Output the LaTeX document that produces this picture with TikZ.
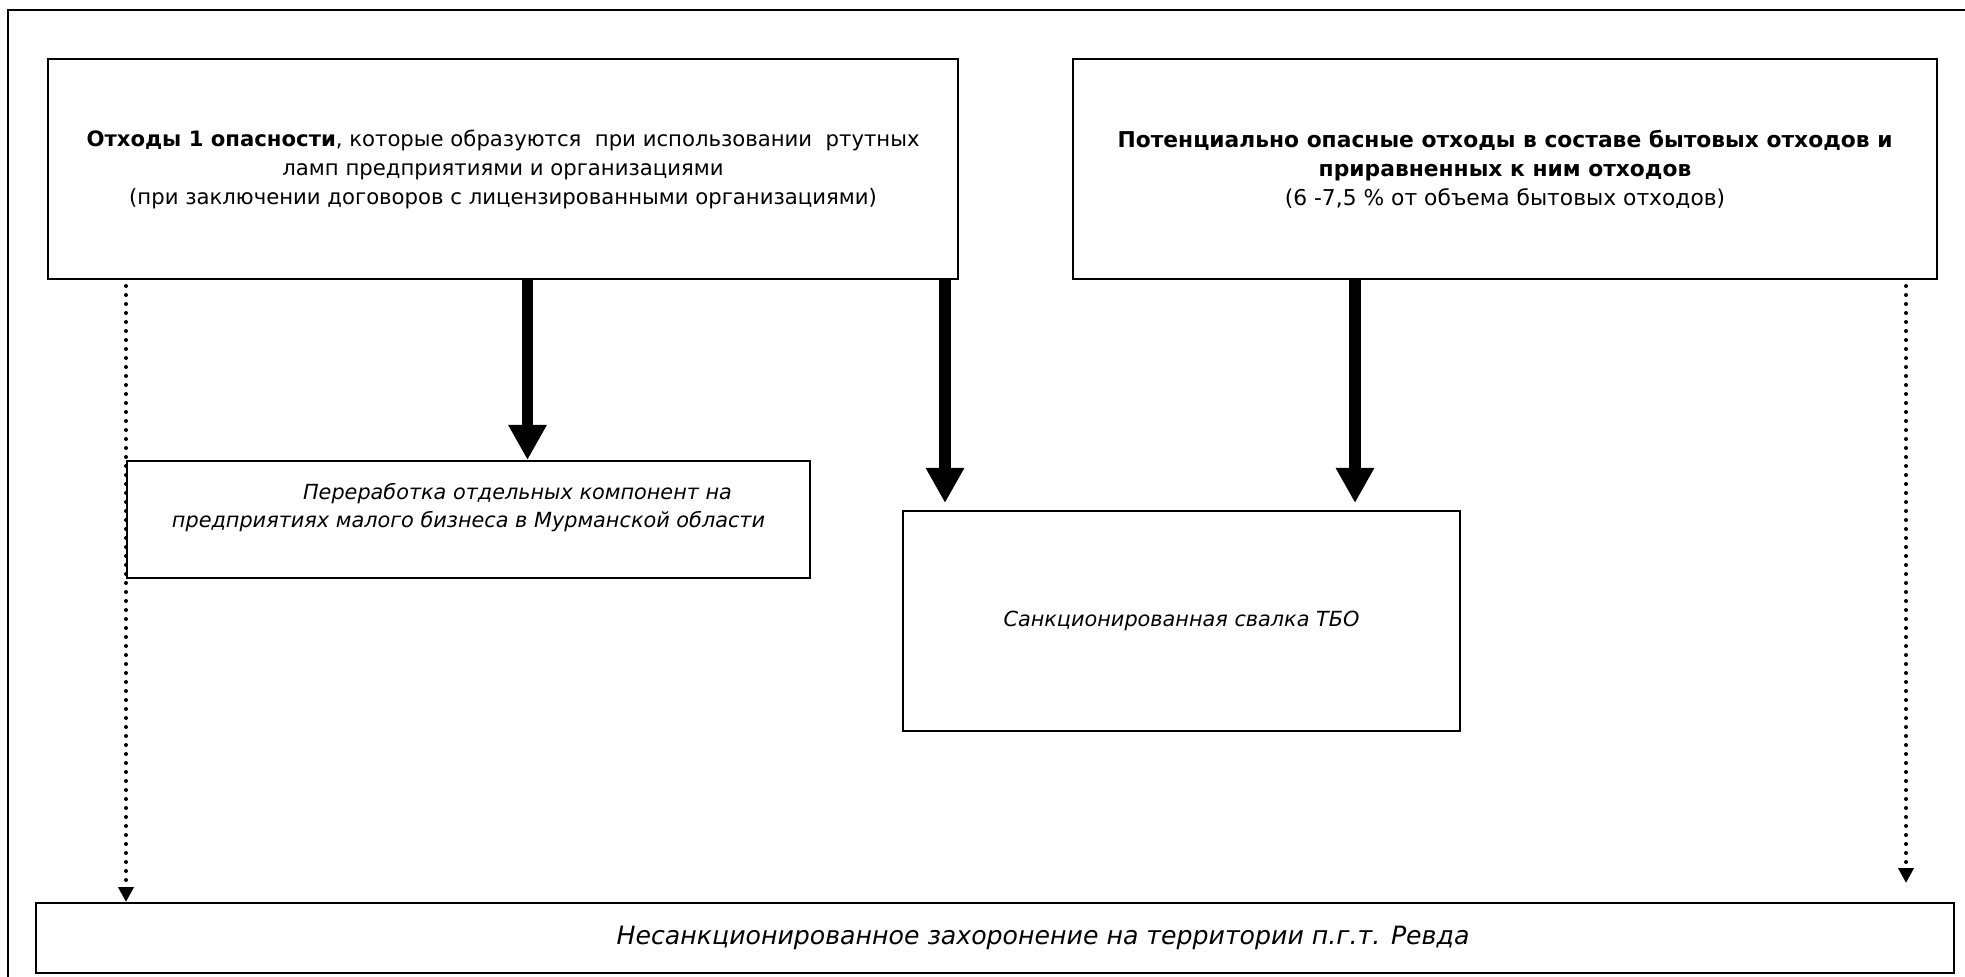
\documentclass[tikz,border=0pt]{standalone}
\usepackage{fontspec}
\setmainfont{DejaVu Sans}
\usetikzlibrary{arrows.meta, calc}

\begin{document}
\begin{tikzpicture}[
      x=0.5pt, y=-0.5pt,
      font=\fontsize{10.6}{14.5}\selectfont,
      box/.style={rectangle, draw=black, line width=1pt, inner sep=0pt,
                  align=center},
      slant/.style={font=\fontsize{10.4}{14}\selectfont\itshape},
      fat/.style={-{Triangle[length=17.5pt, width=18pt]}, line width=5.75pt},
      dots/.style={-{Triangle[length=7.5pt, width=7.5pt]}, line width=2pt,
                   line cap=round, dash pattern=on 0pt off 4.5pt}
  ]
  \useasboundingbox (0,0) rectangle (1965,977);
  \draw[line width=1.25pt] (8,977) |- (1965,10);

  \node[box, minimum width=455pt, minimum height=110pt] (otx) at (503,169)
       {\textbf{Отходы 1 опасности}, которые образуются\ \ при использовании\ \ ртутных\\
        ламп предприятиями и организациями\\
        (при заключении договоров с лицензированными организациями)};
  \node[box, minimum width=432pt, minimum height=110pt,
        font=\fontsize{10.9}{14.5}\selectfont] (pot) at (1505,169)
       {\textbf{Потенциально опасные отходы в составе бытовых отходов и}\\
        \textbf{приравненных к ним отходов}\\
        (6 -7,5 \% от объема бытовых отходов)};
  \node[box, slant, minimum width=341.5pt, minimum height=58.5pt] (pere) at (468.5,519.5)
       {\hspace*{49pt}Переработка отдельных компонент на\\
        предприятиях малого бизнеса в Мурманской области\\ \mbox{}};
  \node[box, slant, minimum width=278.5pt, minimum height=110pt] (svalka) at (1181.5,621)
       {Санкционированная свалка ТБО};
  \node[box, minimum width=959pt, minimum height=35pt,
        font=\fontsize{12.6}{14}\selectfont\itshape] (nesank) at (995,938)
       {\hspace*{48pt}Несанкционированное захоронение на территории п.г.т. Ревда};

  \coordinate (a1) at (527.5,0);
  \coordinate (a2) at (945,0);
  \coordinate (a3) at (1355,0);
  \coordinate (rend) at (1906,883);

  \draw[fat] (otx.south -| a1) -- (pere.north -| a1);
  \draw[fat, shorten >=3.5pt] (otx.south -| a2) -- (svalka.north -| a2);
  \draw[fat, shorten >=3.5pt] (pot.south -| a3) -- (svalka.north -| a3);

  % dotted paths to the unsanctioned dump
  \draw[dots] ($(pere.west |- otx.south)+(0,6)$) -- (pere.west |- nesank.north);
  \draw[dots] ($(otx.south -| rend)+(0,6)$) -- (rend);
\end{tikzpicture}
\end{document}
